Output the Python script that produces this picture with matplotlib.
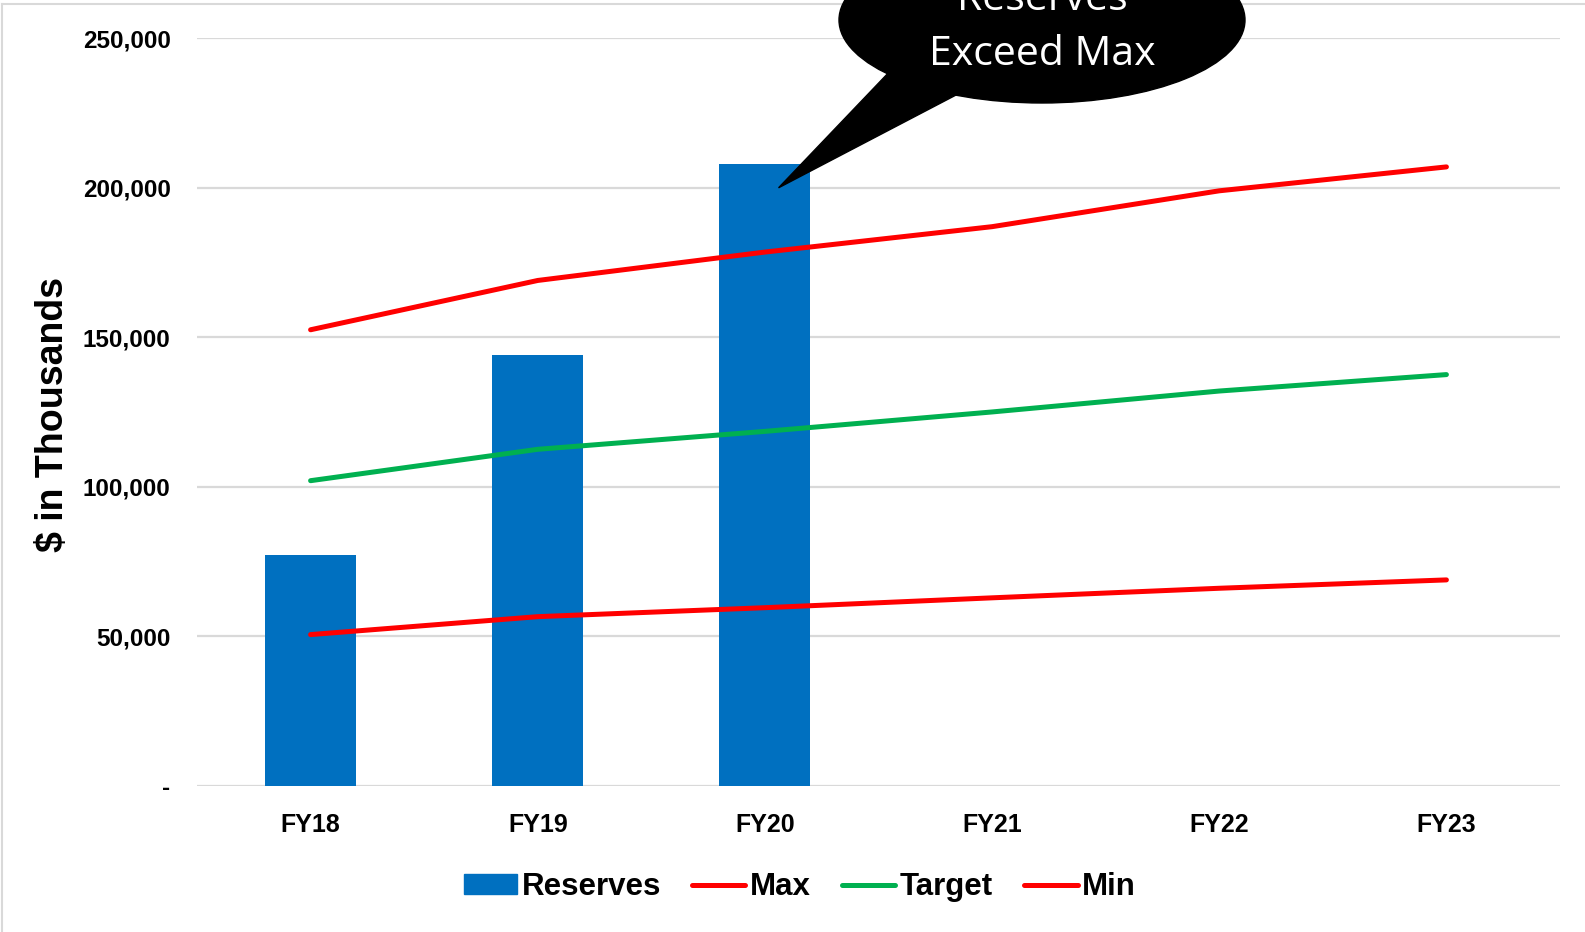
import numpy as np
import matplotlib as mpl
mpl.use( "Agg" )
import matplotlib.pyplot as plt
from matplotlib.patches import Ellipse, Polygon
from matplotlib.lines import Line2D
from matplotlib.ticker import FuncFormatter


## Data
years    = ["FY18","FY19","FY20","FY21","FY22","FY23"]
reserves = [77000,144000,208000]
res_max  = [152500,169000,178500,187000,199000,207000]
target   = [102000,112500,118500,125000,132000,137500]
res_min  = [50500,56500,59500,62800,66000,68800]

## Style
blue  = "#0070C0"
red   = "#FF0000"
green = "#00B050"
grid  = "#D9D9D9"
bold_font = [ "Liberation Sans" , "DejaVu Sans" ]
lw = 3.6

W,H = 1585,932
fig = plt.figure( figsize = ( W / 100 , H / 100 ) , dpi = 100 )

## Main axes, placed in pixels
x0,x1,ytop,ybot = 197,1560,38.4,785.5
ax = fig.add_axes( [ x0 / W , 1 - ybot / H , ( x1 - x0 ) / W , ( ybot - ytop ) / H ] )

xpos = np.arange(len(years))
ax.bar( xpos[:len(reserves)] , reserves , width = 0.4 , color = blue , zorder = 3 )
for vals,col in zip( [res_max,target,res_min] , [red,green,red] ):
	ax.plot( xpos , vals , color = col , linewidth = lw , solid_capstyle = "round" , zorder = 4 )

ax.set_xlim( -0.5 , len(years) - 0.5 )
ax.set_ylim( 0 , 250000 )
ax.set_yticks( np.arange( 0 , 250001 , 50000 ) )
ax.yaxis.set_major_formatter( FuncFormatter( lambda v,p : "-" if v == 0 else "{:,.0f}".format(v) ) )
ax.set_xticks( xpos )
ax.set_xticklabels( years )
ax.grid( axis = "y" , color = grid , linewidth = 1.6 , zorder = 0 )
ax.set_axisbelow(True)
for s in ax.spines.values():
	s.set_visible(False)
ax.tick_params( axis = "both" , length = 0 )
ax.tick_params( axis = "y" , pad = 19 )
ax.tick_params( axis = "x" , pad = 20 )
for lab in ax.get_yticklabels():
	lab.set_fontfamily( bold_font )
	lab.set_fontweight( "bold" )
	lab.set_fontsize( 17.5 )
for lab in ax.get_xticklabels():
	lab.set_fontfamily( bold_font )
	lab.set_fontweight( "bold" )
	lab.set_fontsize( 18 )

fig.text( 52.6 / W , 1 - 414.5 / H , "$ in Thousands" , rotation = 90 , ha = "center" , va = "center" ,
	fontsize = 27 , fontweight = "bold" , family = bold_font )

## Legend
handles = [ mpl.patches.Patch( color = blue ) ,
	Line2D( [] , [] , color = red , linewidth = lw , solid_capstyle = "round" ) ,
	Line2D( [] , [] , color = green , linewidth = lw , solid_capstyle = "round" ) ,
	Line2D( [] , [] , color = red , linewidth = lw , solid_capstyle = "round" ) ]
fig.legend( handles , ["Reserves","Max","Target","Min"] , ncol = 4 , frameon = False ,
	loc = "center" , bbox_to_anchor = ( 800 / W , 1 - 887 / H ) ,
	prop = { "family" : bold_font , "weight" : "bold" , "size" : 22.5 } ,
	handlelength = 1.7 , handleheight = 0.6 , handletextpad = 0.15 , columnspacing = 1.0 )

## Overlay in pixel coordinates: frame and callout
ov = fig.add_axes( [0,0,1,1] , zorder = 10 )
ov.set_xlim( 0 , W )
ov.set_ylim( H , 0 )
ov.axis( "off" )
ov.plot( [1.5,1.5] , [H+5,4] , color = grid , linewidth = 1.5 , zorder = 1 )
ov.plot( [1.5,W+5] , [4,4] , color = grid , linewidth = 1.5 , zorder = 1 )

fig.canvas.draw()
tx,ty = ax.transData.transform( ( 2.06 , 200000 ) )
tip = ( tx , H - ty )
ov.add_patch( Ellipse( (1042,20) , 406 , 166 , color = "black" , clip_on = False , zorder = 5 ) )
ov.add_patch( Polygon( [ (893,68) , (958,94) , tip ] , closed = True , color = "black" , clip_on = False , zorder = 5 ) )
ov.text( 1042 , 10 , "Reserves" , color = "white" , ha = "center" , va = "baseline" , fontsize = 29.5 , family = "Open Sans" , zorder = 6 )
ov.text( 1042 , 65 , "Exceed Max" , color = "white" , ha = "center" , va = "baseline" , fontsize = 29.5 , family = "Open Sans" , zorder = 6 )

fig.savefig( "out.png" , dpi = 100 )
plt.close(fig)
